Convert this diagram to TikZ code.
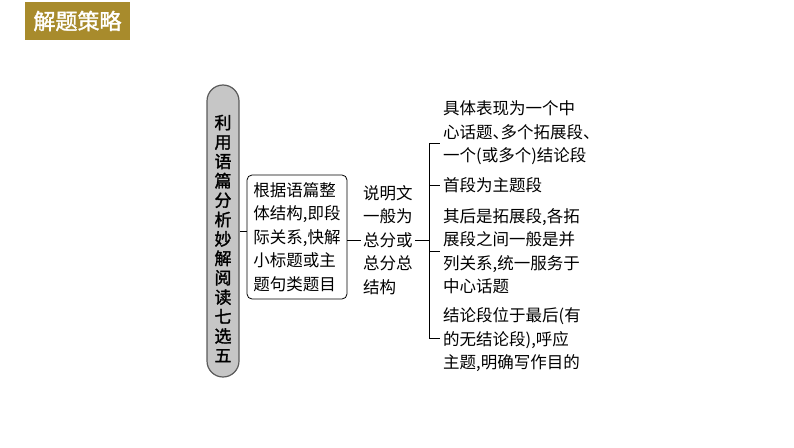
\documentclass[tikz,border=0pt]{standalone}
\usepackage{fontspec}
\newfontfamily\cjk{Noto Sans CJK SC}
\newfontfamily\cjkbold[FakeBold=1.6]{Noto Sans CJK SC}
\definecolor{banner}{HTML}{A88B2C}
\definecolor{pillgray}{HTML}{C6C6C6}
\definecolor{pilledge}{HTML}{5A5A5A}
\newcommand\dunhao{\makebox[8pt][l]{、}}

\tikzset{
  body/.style={font=\cjk\fontsize{16.5}{23.5}\selectfont, align=left, inner xsep=2pt, inner ysep=0pt, anchor=west},
  branch/.style={line width=0.8pt, black}
}

\begin{document}
\begin{tikzpicture}[x=1pt,y=-1pt]
    \useasboundingbox (0,0) rectangle (794,447);

       % banner
       \node[fill=banner, minimum width=105pt, minimum height=38pt, inner sep=0pt, text=white,
             font=\cjkbold\fontsize{22}{22}\selectfont] (banner) at (77.5,21) {解题策略};

       % left pill
       \node[draw=pilledge, fill=pillgray, line width=1.2pt, rounded corners=16pt,
             minimum width=32pt, minimum height=292pt, inner sep=0pt] (pill) at (223,231) {};
       \node[font=\cjkbold\fontsize{17}{19.4}\selectfont, align=center, inner sep=0pt] (ptitle) at (223,238.5)
            {利\\用\\语\\篇\\分\\析\\妙\\解\\阅\\读\\七\\选\\五};

       % middle box
       \node[draw, line width=0.8pt, rounded corners=5pt, minimum width=100pt, minimum height=124pt,
             font=\cjk\fontsize{16.5}{23.5}\selectfont, align=left, inner sep=0pt] (box) at (297,237)
            {根据语篇整\\体结构,即段\\际关系,快解\\小标题或主\\题句类题目};

       \node[body] (expl) at (361,240) {说明文\\一般为\\总分或\\总分总\\结构};

       \coordinate (fork) at (429,240);

       % right column
       \node[body, inner xsep=3pt] (t1) at (440,133) {具体表现为一个中\\心话题\dunhao 多个拓展段\dunhao\\一个(或多个)结论段};
       \node[body, inner xsep=3pt] (t2) at (440,185) {首段为主题段};
       \node[body, inner xsep=3pt] (t3) at (440,251) {其后是拓展段,各拓\\展段之间一般是并\\列关系,统一服务于\\中心话题};
       \node[body, inner xsep=3pt] (t4) at (440,340) {结论段位于最后(有\\的无结论段),呼应\\主题,明确写作目的};

       \draw[branch] (pill.east) -- (pill.east -| box.west);
       \draw[branch] (expl.west -| box.east) -- (expl.west);
       \draw[branch] (expl.east) -- (fork);
       \draw[branch] (fork) |- ([yshift=-10pt]t1.west);
       \draw[branch] (fork) |- (t2.west);
       \draw[branch] (fork) |- (t3.west);
       \draw[branch] (fork) |- ([yshift=2pt]t4.west);

\end{tikzpicture}
\end{document}
